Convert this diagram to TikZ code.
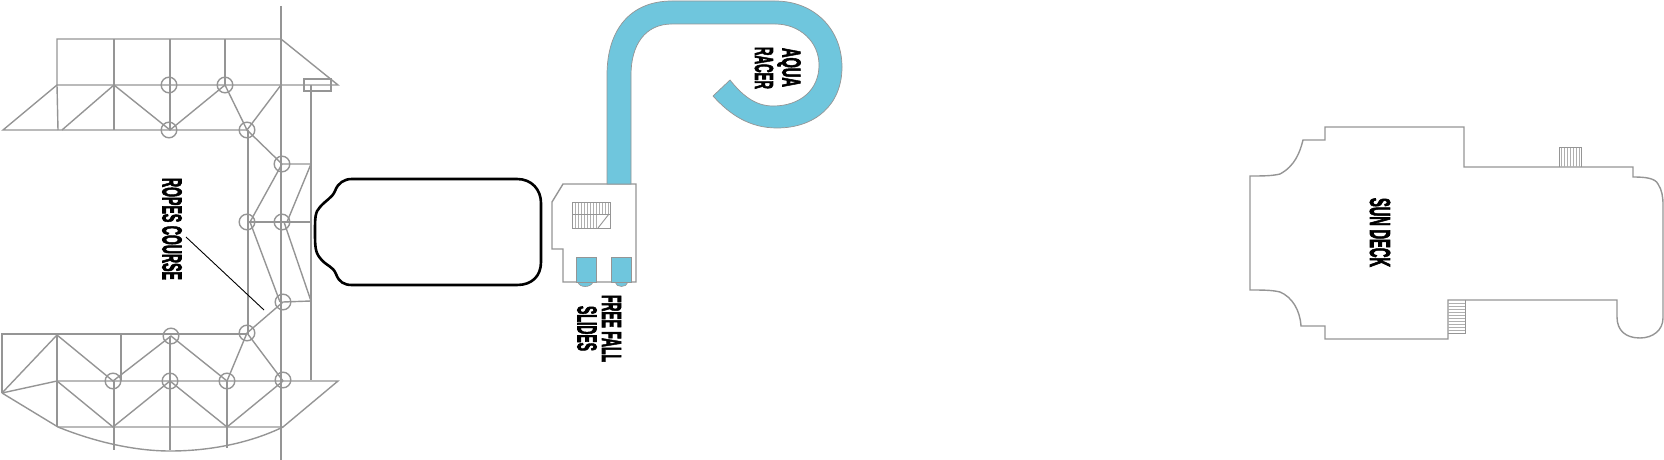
\documentclass[tikz,border=0pt]{standalone}
\usepackage{graphicx}
\usepackage{fontspec}
\setmainfont{Liberation Sans}
\newfontfamily\labelfont[FakeBold=3.5]{Liberation Sans Bold}
\definecolor{struct}{HTML}{959595}
\definecolor{slide}{HTML}{6FC6DD}
\tikzset{
  deck/.style={draw=struct,line width=1.4pt,line join=miter},
  hatch/.style={draw=struct!75,line width=0.6pt},
  ring/.style={draw=struct,line width=1.4pt},
  label/.style={inner sep=0pt,rotate=-90,font=\labelfont},
  slidefill/.style={fill=slide,draw=struct,line width=0.7pt}
}
\newcommand{\fitlabel}[3]{\resizebox{#1pt}{#2pt}{#3}}
\begin{document}
\begin{tikzpicture}[x=1pt,y=-1pt]
\useasboundingbox (0,0) rectangle (1664,460);
% upper truss
\draw[deck] (281,6) -- (281,460);
\draw[deck] (57,85) -- (57,39) -- (281,39) -- (338,85) -- (57,85) -- (3,130) -- (247,130);
\draw[deck] (114,39) -- (114,130);
\draw[deck] (170,39) -- (170,130);
\draw[deck] (225,39) -- (225,85);
\draw[deck] (57,85) -- (58,130);
\draw[deck] (62,130) -- (114,85) -- (170,130) -- (225,85) -- (247,130) -- (281,85);
\draw[deck] (247,130) -- (282,164) -- (311,164);
\draw[deck] (248,130) -- (248,334);
\draw[deck] (311,85) -- (311,380);
\draw[deck] (304,79) rectangle (331,91);
% middle section
\draw[deck] (282,164) -- (250,222);
\draw[deck] (311,164) -- (287,222);
\draw[deck] (247,222) -- (311,222);
\draw[deck] (250,222) -- (280,302);
\draw[deck] (284,222) -- (311,301) -- (283,302) -- (247,333) -- (227,381);
\draw[deck] (247,333) -- (283,381);
% lower truss
\draw[deck] (2,393) -- (2,334) -- (247,334);
\draw[deck] (2,393) -- (57,335) -- (113,381) -- (171,336) -- (227,381);
\draw[deck] (2,393) -- (57,381) -- (338,381) -- (283,427) -- (58,427) -- (2,393);
\draw[deck] (57,335) -- (57,427);
\draw[deck] (121,334) -- (121,381);
\draw[deck] (170,336) -- (170,450);
\draw[deck] (114,381) -- (114,450);
\draw[deck] (227,381) -- (227,448);
\draw[deck] (57,381) -- (113,427) -- (170,381) -- (227,427) -- (283,381);
\draw[deck] (58,427) .. controls (95,442) and (135,451) .. (170,451) .. controls (210,451) and (250,443) .. (283,427);
% rings
\foreach \p in {(169,85),(225,85),(169,130),(247,130),(282,164),(247,222),(282,222),(283,302),(247,333),(171,336),(113,381),(170,381),(227,381),(283,380)}
  \draw[ring] \p circle[radius=7.8];
% pool
\draw[line width=2.6pt,black] (352,179) -- (517,179) .. controls (532,179) and (541,190) .. (541,203) -- (541,262) .. controls (541,276) and (532,285) .. (517,285) -- (352,285) .. controls (344,285) and (339,282) .. (336,274) .. controls (333,266) and (326,266) .. (320,258) .. controls (315,252) and (315,245) .. (315,232) .. controls (315,218) and (315,212) .. (320,207) .. controls (326,200) and (332,198) .. (335,191) .. controls (338,183) and (344,179) .. (352,179) -- cycle;
% slides
\fill[slide,draw=struct,line width=0.6pt] (578,282) .. controls (579,288) and (591,288) .. (593,282) -- cycle;
\fill[slide,draw=struct,line width=0.6pt] (615,282) .. controls (616,288) and (627,288) .. (628,282) -- cycle;
\draw[deck,fill=white] (563,184) -- (636,184) -- (636,282) -- (563,282) -- (563,249) -- (552,249) -- (552,202) -- cycle;
\path[slidefill] (576,257) rectangle (596,282);
\path[slidefill] (611,257) rectangle (631,282);
% stair on platform
\foreach \x in {575,578,...,609} \draw[hatch] (\x,202) -- (\x,214);
\foreach \x in {575,578,...,597} \draw[hatch] (\x,214) -- (\x,228);
\draw[hatch,draw=struct,line width=0.9pt] (572,202) rectangle (610,228);
\draw[hatch,draw=struct,line width=0.9pt] (572,214) -- (610,214);
\draw[hatch,draw=struct,line width=0.9pt] (598,228) -- (609,214);
% aqua racer
\path[slidefill] (607,184) -- (607,75) .. controls (607,30) and (630,1) .. (672,1) -- (775,1) .. controls (815,1) and (842,30) .. (842,67) .. controls (842,105) and (815,128) .. (777,128) .. controls (750,128) and (730,115) .. (713,96) -- (730,80) .. controls (742,95) and (755,106) .. (773,106) .. controls (800,106) and (819,90) .. (819,65) .. controls (819,42) and (800,24) .. (775,24) -- (672,24) .. controls (645,24) and (631,45) .. (631,75) -- (631,184) -- cycle;
% sun deck
\draw[deck] (1250,176) .. controls (1262,176) and (1272,176) .. (1280,174) .. controls (1295,166) and (1300,152) .. (1303,140) -- (1325,140) -- (1325,127) -- (1464,127) -- (1464,167) -- (1633,167) -- (1633,177) .. controls (1645,177) and (1655,178) .. (1658,184) .. controls (1662,190) and (1663,197) .. (1663,205) -- (1663,318) .. controls (1663,330) and (1653,338) .. (1640,338) .. controls (1625,338) and (1617,330) .. (1617,317) -- (1617,300) -- (1465,300) -- (1448,300) -- (1448,339) -- (1325,339) -- (1325,326) -- (1301,326) .. controls (1300,310) and (1292,297) .. (1280,292) .. controls (1272,290) and (1262,290) .. (1250,290) -- cycle;
\foreach \x in {1561,1564,...,1580} \draw[hatch] (\x,147) -- (\x,167);
\draw[hatch,draw=struct,line width=0.9pt] (1559,167) -- (1559,147) -- (1581,147) -- (1581,167);
\foreach \y in {303,306,...,332} \draw[hatch] (1448,\y) -- (1465,\y);
\draw[hatch,draw=struct,line width=0.9pt] (1465,300) -- (1465,333) -- (1448,333);
% leader
\coordinate (leadA) at (186,237);
\coordinate (leadB) at (264,310);
\draw[black,line width=0.9pt] (leadA) -- (leadB);
% labels
\node[label] (ropes) at (172,229) {\fitlabel{102}{19}{ROPES COURSE}};
\node[label] (freefall) at (611.5,328.5) {\fitlabel{67}{19}{FREE FALL}};
\node[label] (slides) at (587,328.5) {\fitlabel{45}{19}{SLIDES}};
\node[label] (aqua) at (789,67.5) {\fitlabel{39}{18}{AQUA}};
\node[label] (racer) at (764,68) {\fitlabel{42}{18}{RACER}};
\node[label] (sundeck) at (1380,232.5) {\fitlabel{69}{20}{SUN DECK}};
\end{tikzpicture}
\end{document}
